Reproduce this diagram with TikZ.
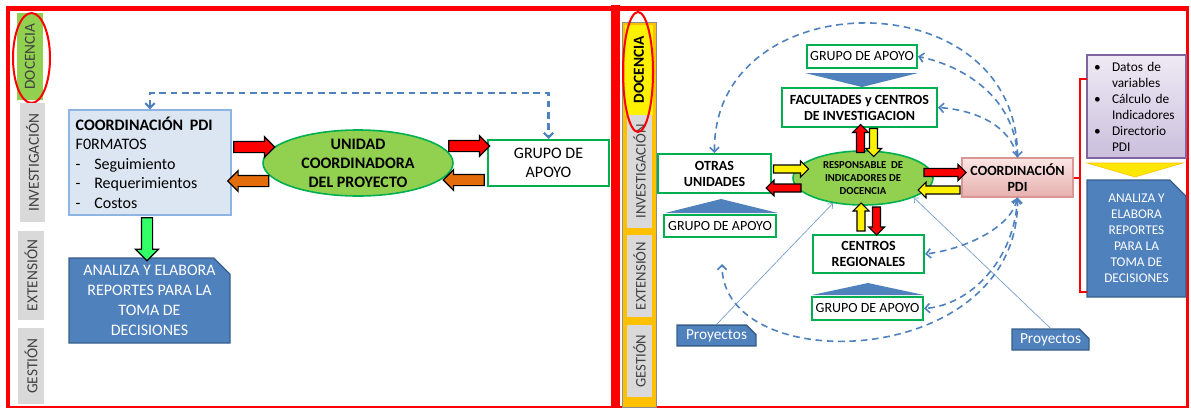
\documentclass[tikz,border=0pt]{standalone}
\usepackage{fontspec}
\setmainfont{Carlito}
\usepackage{tikz}
\usetikzlibrary{shapes.geometric,shapes.arrows,shapes.misc,arrows.meta}

\definecolor{azul}{HTML}{4F81BD}
\definecolor{azulosc}{HTML}{385D8A}
\definecolor{bordeceleste}{HTML}{8EB4E3}
\definecolor{celeste}{HTML}{DCE6F2}
\definecolor{verdeb}{HTML}{00B050}
\definecolor{verdef}{HTML}{92D050}
\definecolor{verdelim}{HTML}{33FF66}
\definecolor{grisb}{HTML}{D9D9D9}
\definecolor{grist}{HTML}{404040}
\definecolor{naranja}{HTML}{E46C0A}
\definecolor{ambar}{HTML}{FFC000}
\definecolor{rosab}{HTML}{D99694}
\definecolor{rosa1}{HTML}{FBE5E4}
\definecolor{rosa2}{HTML}{E6B0AE}
\definecolor{lilab}{HTML}{8064A2}
\definecolor{lila1}{HTML}{EEEAF4}
\definecolor{lila2}{HTML}{CBBFDD}

\newcommand\guion{\makebox[14pt][l]{-}}
\newcommand\vineta{\makebox[16.75pt][l]{\hspace{3.25pt}\textbullet}}
\newcommand\sangria{\hspace*{16.75pt}}

\begin{document}
\begin{tikzpicture}[x=0.75pt,y=-0.75pt,
  cajav/.style={draw=verdeb, line width=1.5pt, fill=white, align=center, inner sep=0pt},
  elip/.style={ellipse, draw=verdeb, line width=1.2pt, fill=verdef, inner sep=0pt},
  flecha/.style={single arrow, draw=black, line width=0.9pt, inner sep=3.75pt, single arrow head extend=3.6pt, minimum height=30.75pt},
  flechita/.style={single arrow, draw=black, line width=0.8pt, inner sep=2.6pt, single arrow head extend=3pt},
  etiq/.style={rotate=90, fill=grisb, text=grist, inner sep=0pt, font=\fontsize{11.5}{13}\selectfont},
  reporte/.style={chamfered rectangle, chamfered rectangle corners=north east, chamfered rectangle xsep=9pt, fill=azul, draw=azulosc, line width=1pt, text=white, align=center, inner sep=0pt},
  guia/.style={draw=azul, dashed, dash pattern=on 5pt off 3.5pt, line width=1.2pt, >={Straight Barb[length=3.5pt,width=7pt]}},
  f12/.style={font=\fontsize{12}{14.6}\selectfont},
  f10/.style={font=\fontsize{10.5}{12}\selectfont},
  f10b/.style={font=\bfseries\fontsize{10.5}{12}\selectfont}]
\useasboundingbox (0,0) rectangle (1191,408);
%\draw (0,0) grid (1191,408);

% marcos
\draw [red, line width=3.75pt] (6,8) -- (1189,8);
\draw [red, line width=3pt] (8,6) -- (8,407);
\draw [red, line width=6.75pt] (615.5,5) -- (615.5,407);
\draw [red, line width=2.25pt] (1187.5,6) -- (1187.5,407);
\draw [red, line width=1.5pt] (6,406.5) -- (1189,406.5);

% panel izquierdo
\node [etiq, fill=verdef, minimum width=65.25pt, minimum height=19.5pt] (ldoc) at (30,56.5) {DOCENCIA};
\node [ellipse, draw=red, line width=1.5pt, minimum width=27.75pt, minimum height=67.5pt] (lanillo) at (31.5,58) {};
\node [etiq, minimum width=89.25pt, minimum height=18.75pt] (linv) at (32.5,162.5) {INVESTIGACIÓN};
\node [etiq, minimum width=66.75pt, minimum height=19.5pt] (lext) at (31,275.5) {EXTENSIÓN};
\node [etiq, minimum width=57pt, minimum height=19.5pt] (lges) at (31,366) {GESTIÓN};

\node [draw=bordeceleste, fill=celeste, line width=1pt, text width=111.5pt, minimum height=78.75pt, inner sep=5pt, align=left, f12] (lcoord) at (150,162.5) {\textbf{COORDINACIÓN\hspace{5pt}PDI}\\F0RMATOS\\\guion Seguimiento\\\guion Requerimientos\\\guion Costos};
\node [elip, minimum width=142.5pt, minimum height=49.5pt] (lunidad) at (358,163) {};
\node [font=\bfseries\fontsize{12}{14.3}\selectfont, align=center] at (lunidad) {UNIDAD\\COORDINADORA\\DEL PROYECTO};
\node [cajav, minimum width=90.75pt, minimum height=34.5pt, f12] (lgrupo) at (548.5,163) {GRUPO DE\\APOYO};
\node [reporte, minimum width=120.75pt, minimum height=63.75pt, font=\fontsize{12}{15}\selectfont] (lanaliza) at (149.5,300.5) {ANALIZA Y ELABORA\\REPORTES PARA LA\\TOMA DE\\DECISIONES};

\node [flecha, fill=red] (lf1) at (251.5,147) {};
\node [flecha, fill=naranja, shape border rotate=180] (lf2) at (251,181) {};
\node [flecha, fill=red] (lf3) at (466.5,146) {};
\node [flecha, fill=naranja, shape border rotate=180] (lf4) at (466.5,180) {};
\node [flecha, fill=verdelim, shape border rotate=270, minimum height=32.25pt, single arrow head extend=4.5pt] (lf5) at (147,236.5) {};

\draw [guia, line width=1.6pt, <->] (lcoord.north) -- ++(0,-16) -| (lgrupo.north);

% panel derecho
\node [draw=black!45, fill=ambar, minimum width=25.5pt, minimum height=288.75pt, inner sep=0pt] (rbarra) at (639,214.5) {};
\node [rotate=90, fill=yellow, minimum width=67.5pt, minimum height=21pt, inner sep=0pt, font=\bfseries\fontsize{11.5}{13}\selectfont] (rdoc) at (639,70) {DOCENCIA};
\node [etiq, minimum width=84.75pt, minimum height=18.75pt, font=\fontsize{11}{13}\selectfont] (rinv) at (639.5,171.5) {INVESTIGACIÓN};
\node [etiq, minimum width=61.5pt, minimum height=18.75pt, font=\fontsize{11}{13}\selectfont] (rext) at (639.5,276) {EXTENSIÓN};
\node [etiq, minimum width=54pt, minimum height=18.75pt, font=\fontsize{11}{13}\selectfont] (rges) at (639.5,361) {GESTIÓN};
\node [ellipse, draw=red, line width=1.5pt, minimum width=22.5pt, minimum height=90pt] (ranillo) at (638,72) {};

\node [elip, minimum width=105pt, minimum height=40.5pt] (resp) at (863,178) {};
\node [font=\bfseries\fontsize{8}{9.75}\selectfont, align=center] at (resp) {RESPONSABLE\ \ DE\\INDICADORES DE\\DOCENCIA};

\node [cajav, minimum width=82.5pt, minimum height=17.25pt, f10] (grupoA) at (862,56.5) {GRUPO DE APOYO};
\node [cajav, minimum width=116.25pt, minimum height=29.25pt, f10b] (facu) at (859.5,107.5) {FACULTADES y CENTROS\\DE INVESTIGACION};
\node [cajav, minimum width=84.75pt, minimum height=29.25pt, f10b] (otras) at (714.5,173.5) {OTRAS\\UNIDADES};
\node [cajav, minimum width=84pt, minimum height=16.5pt, f10] (grupoB) at (720,226) {GRUPO DE APOYO};
\node [cajav, minimum width=83.25pt, minimum height=28.5pt, f10b] (centros) at (868.5,254) {CENTROS\\REGIONALES};
\node [cajav, minimum width=83.25pt, minimum height=17.25pt, f10] (grupoC) at (867.5,308.5) {GRUPO DE APOYO};
\node [draw=rosab, top color=rosa1, bottom color=rosa2, line width=1pt, minimum width=83.25pt, minimum height=29.25pt, inner sep=0pt, align=center, f10b] (rcoord) at (1017.5,177.5) {COORDINACIÓN\\PDI};

\fill [azul] (805,73) -- (918,73) -- (862,87) -- cycle;
\fill [azul] (665,213) -- (778,213) -- (721,199) -- cycle;
\fill [azul] (812,295) -- (924,295) -- (868,283) -- cycle;

\node [flechita, fill=yellow, minimum height=26.25pt] (rf1) at (789,169) {};
\node [flechita, fill=red, minimum height=26.25pt, shape border rotate=180] (rf2) at (785.5,188) {};
\node [flechita, fill=red, minimum height=21pt, shape border rotate=90] (rf3) at (860.5,140.5) {};
\node [flechita, fill=yellow, minimum height=21pt, shape border rotate=270] (rf4) at (873.5,140.5) {};
\node [flechita, fill=yellow, minimum height=21pt, shape border rotate=90] (rf5) at (861,219) {};
\node [flechita, fill=red, minimum height=21pt, shape border rotate=270] (rf6) at (876.5,219) {};
\node [flechita, fill=red, minimum height=31.5pt] (rf7) at (943,172.5) {};
\node [flechita, fill=yellow, minimum height=31.5pt, shape border rotate=180] (rf8) at (941,190) {};

\node [draw=lilab, top color=lila1, bottom color=lila2, line width=1pt, minimum width=74.25pt, minimum height=77.25pt, text width=70.25pt, inner sep=2pt, align=left, font=\fontsize{10}{12}\selectfont] (lista) at (1136.5,106.5) {\vineta Datos de\\\sangria variables\\\vineta Cálculo de\\\sangria Indicadores\\\vineta Directorio\\\sangria PDI};
\filldraw [fill=yellow!90!orange, draw=ambar] (1087,163) -- (1183,163) -- (1135,177) -- cycle;
\node [reporte, minimum width=74.25pt, minimum height=87.75pt, font=\fontsize{10}{12}\selectfont] (ranaliza) at (1136.5,238.5) {ANALIZA Y\\ELABORA\\REPORTES\\PARA LA\\TOMA DE\\DECISIONES};

\coordinate (llave) at (1080,177.5);
\draw [red, line width=1.5pt] (rcoord.east) -- (llave);
\draw [red, line width=1.5pt] (1087,79) -- (1080,79) -- (1080,292) -- (1087,292);

\node [reporte, chamfered rectangle xsep=4pt, minimum width=59.25pt, minimum height=14.25pt, font=\fontsize{11.5}{12}\selectfont] (proyA) at (716.5,335.5) {Proyectos};
\node [reporte, chamfered rectangle xsep=4pt, minimum width=57.75pt, minimum height=15.75pt, font=\fontsize{11.5}{12}\selectfont] (proyB) at (1050.5,339.5) {Proyectos};
\draw [azul!80, line width=0.5pt, -{Straight Barb[length=3pt,width=5pt]}] (proyA.north) -- (resp.220);
\draw [azul!80, line width=0.5pt, -{Straight Barb[length=3pt,width=5pt]}] (proyB.north) -- (resp.339);

\coordinate (finarco) at (722,264);
\draw [guia, <->] (otras.north) .. controls (712,-18) and (1017,-23) .. (rcoord.north);
\draw [guia, ->] (rcoord.north) .. controls (1015,95) and (960,65) .. (grupoA.east);
\draw [guia, ->] (rcoord.north) .. controls (1010,125) and (975,110) .. (facu.east);
\draw [guia, <->] (rcoord.south) .. controls (1010,230) and (960,250) .. (centros.east);
\draw [guia, ->] (rcoord.south) .. controls (1015,260) and (970,305) .. (grupoC.east);
\draw [guia, <->] (rcoord.south) .. controls (1020,370) and (722,380) .. (finarco);
\end{tikzpicture}
\end{document}
